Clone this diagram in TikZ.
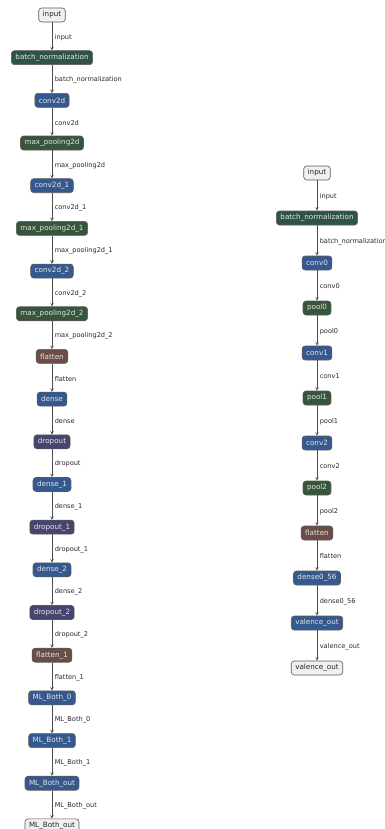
\documentclass[tikz,border=0pt]{standalone}
\usepackage{fontspec}
\setmainfont{DejaVu Sans}
\definecolor{convblue}{HTML}{35598F}
\definecolor{poolgreen}{HTML}{36553A}
\definecolor{normgreen}{HTML}{2F5345}
\definecolor{flatbrown}{HTML}{6A4D45}
\definecolor{dropviolet}{HTML}{46456F}
\definecolor{iogray}{HTML}{F0F0F0}
\tikzset{
	layer/.style={rounded corners=3pt, draw=black!65, line width=0.6pt, text=white!90!black,
		font=\fontsize{7.2}{8}\selectfont, inner xsep=4pt, inner ysep=0pt, minimum height=14pt},
	io/.style={layer, fill=iogray, text=black!85},
	norm/.style={layer, fill=normgreen},
	conv/.style={layer, fill=convblue},
	pool/.style={layer, fill=poolgreen},
	flat/.style={layer, fill=flatbrown},
	drop/.style={layer, fill=dropviolet},
	flow/.style={->, >=stealth, draw=black!70, line width=0.55pt},
	lbl/.style={anchor=west, xshift=2.5pt, yshift=-1pt, inner sep=0pt, font=\fontsize{6.6}{7}\selectfont, text=black!85}
}
\begin{document}
\begin{tikzpicture}[x=1pt, y=1pt]
	\useasboundingbox (0,0) rectangle (385,-829);
	% Left model
	\foreach \txt/\kind [count=\i, remember=\i as \j, remember=\txt as \prevtxt] in {
		input/io, batch\_normalization/norm, conv2d/conv, max\_pooling2d/pool,
		conv2d\_1/conv, max\_pooling2d\_1/pool, conv2d\_2/conv, max\_pooling2d\_2/pool,
		flatten/flat, dense/conv, dropout/drop, dense\_1/conv, dropout\_1/drop,
		dense\_2/conv, dropout\_2/drop, flatten\_1/flat, ML\_Both\_0/conv,
		ML\_Both\_1/conv, ML\_Both\_out/conv, ML\_Both\_out/io}
	{
		\node[\kind] (L\i) at (52, {-15-42.68*(\i-1)}) {\txt};
		\ifnum\i>1
			\draw[flow] (L\j) -- node[lbl, pos=0.5]{\prevtxt} (L\i);
		\fi
	}
	% Right model
	\foreach \txt/\kind [count=\i, remember=\i as \j, remember=\txt as \prevtxt] in {
		input/io, batch\_normalization/norm, conv0/conv, pool0/pool,
		conv1/conv, pool1/pool, conv2/conv, pool2/pool,
		flatten/flat, dense0\_56/conv, valence\_out/conv, valence\_out/io}
	{
		\node[\kind] (R\i) at (317, {-173-45*(\i-1)}) {\txt};
		\ifnum\i>1
			\draw[flow] (R\j) -- node[lbl, pos=0.5]{\prevtxt} (R\i);
		\fi
	}
\end{tikzpicture}
\end{document}
